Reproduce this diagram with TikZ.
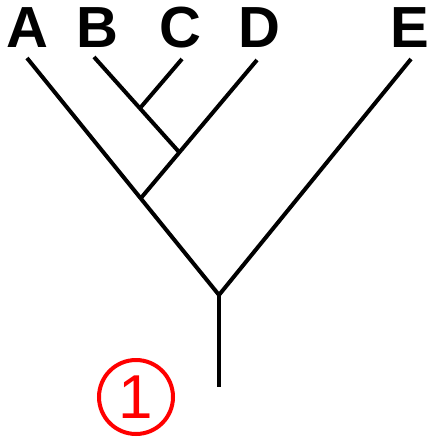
\documentclass[tikz,border=0pt]{standalone}
\usepackage{fontspec}
\setmainfont{Liberation Sans}
\usetikzlibrary{positioning}
\definecolor{markred}{RGB}{255,0,0}
\tikzset{
  taxon/.style={font=\fontsize{58}{58}\selectfont\bfseries, inner sep=0pt},
  branch/.style={line width=4pt, black},
  numcirc/.style={circle, draw=markred, line width=4pt, text=markred, inner sep=0pt,
                  minimum size=74pt, font=\fontsize{62}{62}\selectfont},
}

\begin{document}
\begin{tikzpicture}[x=1pt, y=-1pt]
        \useasboundingbox (0,0) rectangle (430,439);
        % taxa
        \node[taxon] (A) at (27,28) {A};
        \node[taxon] (B) at (97,28) {B};
        \node[taxon] (C) at (180,28) {C};
        \node[taxon] (D) at (259,28) {D};
        \node[taxon] (E) at (410,28) {E};
        % branch tips and nodes
        \coordinate (tA) at (27,58); \coordinate (tB) at (94,57);
        \coordinate (tC) at (182,59); \coordinate (tD) at (257,60);
        \coordinate (tE) at (411,59);
        \coordinate (root) at (219,295); \coordinate (base) at (219,387);
        \coordinate (jA) at (141,198); \coordinate (jBCD) at (179,152);
        \coordinate (jBC) at (141,107);
        \draw[branch] (tA) -- (root) -- (tE);
        \draw[branch] (root) -- (base);
        \draw[branch] (tD) -- (jA);
        \draw[branch] (tB) -- (jBCD);
        \draw[branch] (tC) -- (jBC);
        \node[numcirc] (n1) at (136,397) {1};
\end{tikzpicture}
\end{document}
